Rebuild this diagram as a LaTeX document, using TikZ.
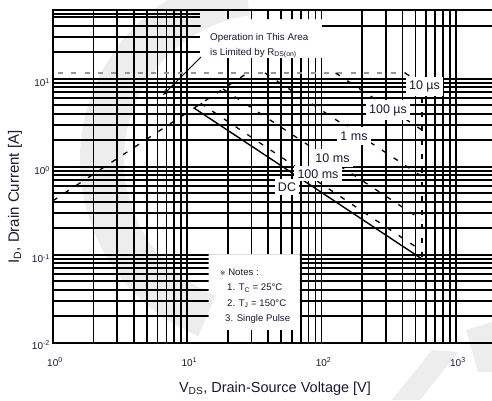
\documentclass[tikz,border=0pt]{standalone}
\usepackage{fontspec}
\setmainfont{Liberation Sans}
\newfontfamily\symfont{DejaVu Sans}
\usetikzlibrary{arrows.meta}
\definecolor{ink}{RGB}{25,25,50}
\definecolor{limgray}{RGB}{150,150,150}
\definecolor{wmark}{RGB}{237,237,237}
\begin{document}
\begin{tikzpicture}[x=1pt,y=-1pt,
  gridline/.style={line width=1.7pt,black},
  soaline/.style={line width=1.3pt,black,dash pattern=on 5pt off 9pt},
  dcline/.style={line width=1.4pt,black},
  limline/.style={line width=1.6pt,limgray,dash pattern=on 5pt off 8.3pt,dash phase=-5pt},
  lbl/.style={fill=white,inner sep=0pt,text=ink,font=\fontsize{12.5}{14}\selectfont},
  tick/.style={text=ink,font=\fontsize{10}{12}\selectfont,inner sep=0pt},
  note/.style={text=ink,font=\fontsize{9.6}{11}\selectfont,inner sep=0pt,anchor=base west},
  axtitle/.style={text=ink,font=\fontsize{14.5}{17}\selectfont,inner sep=0pt},
]
\useasboundingbox (0,0) rectangle (492,400);
\fill[white] (0,0) rectangle (492,400);
% ---- faint watermark
\draw[wmark,line width=44pt] (270,160) ++(262:168) arc[start angle=262,end angle=112,radius=168];
\fill[wmark] (392,400) -- (420,400) -- (458,352) -- (432,350) -- cycle;
\fill[wmark] (466,330) -- (492,322) -- (492,372) -- (478,372) -- cycle;
% ---- grid, kept out of the annotation and notes boxes
\begin{scope}[even odd rule]
\clip (0,0) rectangle (492,400) (200.7,19) rectangle (322,58) (208.5,254) rectangle (299.8,330);
\foreach \d in {0,1,2}{
  \foreach \l in {0,0.30103,0.47712,0.60206,0.69897,0.77815,0.84510,0.90309,0.95424}{
    \draw[gridline] ({53+134.3*(\d+\l)},10) -- ({53+134.3*(\d+\l)},342.7);
    \draw[gridline] (53,{342.7-88*(\d+\l)}) -- (492,{342.7-88*(\d+\l)});
  }
}
\draw[gridline] (455.9,10) -- (455.9,342.7);
\draw[gridline] (53,78.7) -- (492,78.7);
\draw[gridline] (53,52.2) -- (200,52.2);
\draw[gridline] (53,36.7) -- (200,36.7);
\draw[gridline] (53,25.7) -- (492,25.7);
\draw[gridline] (53,17.2) -- (200,17.2);
\draw[gridline] (53,13.8) -- (200,13.8);
\draw[gridline] (492,10) -- (53,10) -- (53,342.7) -- (492,342.7);
\end{scope}
% ---- limits
\draw[limline] (53,73) -- (406,73);
\coordinate (rds0) at (53,200.7);
\coordinate (rds1) at (247.4,73);
\draw[soaline] (rds0) -- (rds1);
% pulse lines
\coordinate (vdssTop) at (422,84);
\coordinate (vdssBot) at (422,259);
\draw[soaline] (405,73) -- (vdssTop);
\draw[soaline] (335.6,73) -- (422,130);
\draw[soaline] (265,73) -- (422,176.5);
\draw[soaline] (223,89) -- (422,220);
\draw[soaline] (200.7,103.4) -- (422,251);
\draw[dcline] (194,108) -- (vdssBot);
\draw[soaline] (vdssTop) -- (vdssBot);
% ---- leader arrow
\coordinate (leadS) at (201,57);
\coordinate (leadE) at (163,95);
\draw[line width=1pt,black,-{Stealth[length=6pt,width=5pt]}] (leadS) -- (leadE);
% ---- curve labels
\node[lbl,minimum width=37pt,minimum height=19pt] (l10us) at (424.5,86.5) {10 µs};
\node[lbl,minimum width=44pt,minimum height=20pt] (l100us) at (388,110) {100 µs};
\node[lbl,minimum width=34pt,minimum height=18pt] (l1ms) at (354,136) {1 ms};
\node[lbl,minimum width=41pt,minimum height=18pt] (l10ms) at (332.5,158) {10 ms};
\node[lbl,minimum width=48pt,minimum height=15.5pt] (l100ms) at (318,173.7) {100 ms};
\node[lbl,minimum width=24pt,minimum height=15.5pt] (ldc) at (287,187) {DC};
% ---- annotation
\node[note,font=\fontsize{9.8}{11}\selectfont] (ann1) at (210,40) {Operation in This Area};
\node[note,font=\fontsize{9.8}{11}\selectfont] (ann2) at (210,55) {is Limited by R\textsubscript{DS(on)}};
% ---- notes
\node[note] (n0) at (220,275) {{\symfont\fontsize{6.5}{8}\selectfont ※} Notes :};
\node[note] (n1) at (227,290.5) {1. T\textsubscript{C} = 25°C};
\node[note] (n2) at (227,306) {2. T\textsubscript{J} = 150°C};
\node[note] (n3) at (225,321) {3. Single Pulse};
% ---- tick labels
\node[tick] (x0) at (55,362) {10\textsuperscript{0}};
\node[tick] (x1) at (189.3,362) {10\textsuperscript{1}};
\node[tick] (x2) at (323.6,362) {10\textsuperscript{2}};
\node[tick] (x3) at (457.9,362) {10\textsuperscript{3}};
\node[tick,anchor=east] (y1) at (50,82.5) {10\textsuperscript{1}};
\node[tick,anchor=east] (y0) at (50,170.5) {10\textsuperscript{0}};
\node[tick,anchor=east] (ym1) at (50,258.5) {10\textsuperscript{-1}};
\node[tick,anchor=east] (ym2) at (50,345) {10\textsuperscript{-2}};
% ---- axis titles
\node[axtitle,anchor=base] (xt) at (275,392) {V\textsubscript{DS}, Drain-Source Voltage [V]};
\node[axtitle,font=\fontsize{15}{17}\selectfont,rotate=90] (yt) at (15,197) {I\textsubscript{D}, Drain Current [A]};
\end{tikzpicture}
\end{document}
